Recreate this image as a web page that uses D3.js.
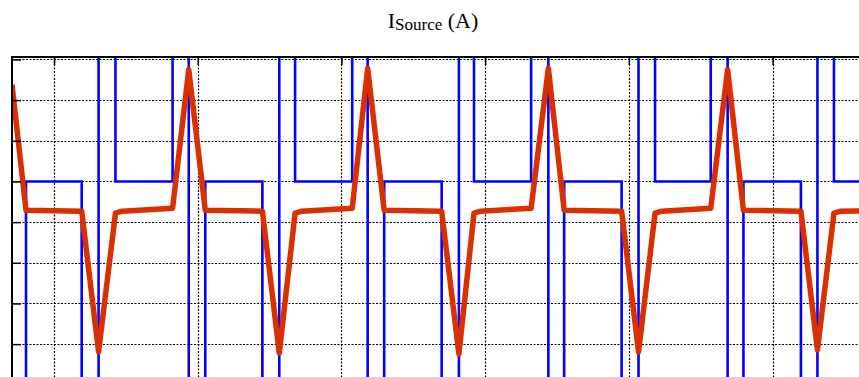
<!DOCTYPE html>
<html>
<head>
<meta charset="utf-8">
<script src="https://cdn.jsdelivr.net/npm/d3@7/dist/d3.min.js"></script>
<style>
  html, body { margin: 0; padding: 0; background: #fff; }
  svg { display: block; }
</style>
</head>
<body>
<svg id="chart" width="859" height="377"></svg>
<script>
// ---- data ----
const xTicks = [4, 8, 12, 16, 20, 24];
const yTicks = [-5, -4, -3, -2, -1, 0, 1, 2, 3];

// blue: three-level switching waveform (step after)
const blueT = [2.83, 3.22, 4.77, 5.24, 5.71, 7.30, 7.75, 8.21, 9.80, 10.27, 10.71, 12.30, 12.73, 13.19,
  14.79, 15.27, 15.69, 17.28, 17.76, 18.20, 19.80, 20.27, 20.73, 22.28, 22.75, 23.19, 24.79, 25.25, 25.71, 26.70];
const blueV = [-5, 0, -5, 5, 0, 5, -5, 0, -5, 5, 0, 5, -5, 0,
  -5, 5, 0, 5, -5, 0, -5, 5, 0, 5, -5, 0, -5, 5, 0, 0];

// red: source current
const redT = [2.83, 3.22, 4.77, 5.24, 5.71, 5.90, 7.30, 7.75, 8.21, 9.80, 10.27, 10.71, 10.90, 12.30, 12.73,
  13.19, 14.79, 15.27, 15.69, 15.88, 17.28, 17.76, 18.20, 19.80, 20.27, 20.73, 20.92, 22.28, 22.75,
  23.19, 24.79, 25.25, 25.71, 25.90, 26.70];
const redV = [2.38, -0.71, -0.73, -4.19, -0.78, -0.73, -0.66, 2.75, -0.71, -0.73, -4.22, -0.78, -0.73, -0.66, 2.78,
  -0.71, -0.73, -4.24, -0.78, -0.73, -0.66, 2.78, -0.71, -0.73, -4.19, -0.78, -0.73, -0.66, 2.75,
  -0.71, -0.73, -4.14, -0.78, -0.73, -0.72];

// ---- layout ----
const svg = d3.select("#chart");
const plotLeft = 12, plotTop = 57;
const xDomain = [2.83, 26.7];
const pxPerX = 35.925;
const yDomain = [-5.6, 3.06];
const pxPerY = 40.67;
const plotRight = plotLeft + (xDomain[1] - xDomain[0]) * pxPerX;
const plotBottom = plotTop + (yDomain[1] - yDomain[0]) * pxPerY;

const x = d3.scaleLinear().domain(xDomain).range([plotLeft, plotRight]);
const y = d3.scaleLinear().domain(yDomain).range([plotBottom, plotTop]);

svg.append("defs").append("clipPath").attr("id", "clip")
  .append("rect").attr("x", plotLeft).attr("y", plotTop)
  .attr("width", plotRight - plotLeft).attr("height", plotBottom - plotTop);

// grid
const grid = svg.append("g").attr("clip-path", "url(#clip)");
grid.selectAll(".gx").data(xTicks).enter().append("line")
  .attr("x1", d => Math.round(x(d)) + 0.5).attr("x2", d => Math.round(x(d)) + 0.5)
  .attr("y1", plotTop).attr("y2", plotBottom)
  .attr("stroke", "#000").attr("stroke-width", 1.2).attr("stroke-dasharray", "2,1.5");
grid.selectAll(".gy").data(yTicks).enter().append("line")
  .attr("y1", d => Math.round(y(d)) + 0.5).attr("y2", d => Math.round(y(d)) + 0.5)
  .attr("x1", plotLeft).attr("x2", plotRight)
  .attr("stroke", "#000").attr("stroke-width", 1.2).attr("stroke-dasharray", "2,1.5");

const plot = svg.append("g").attr("clip-path", "url(#clip)");

// blue
const blueData = blueT.map((t, i) => [t, blueV[i]]);
plot.append("path").datum(blueData)
  .attr("d", d3.line().x(d => x(d[0])).y(d => y(d[1])).curve(d3.curveStepAfter))
  .attr("fill", "none").attr("stroke", "#0000ff").attr("stroke-width", 2.6);

// red
const redData = redT.map((t, i) => [t, redV[i]]);
plot.append("path").datum(redData)
  .attr("d", d3.line().x(d => x(d[0])).y(d => y(d[1])))
  .attr("fill", "none").attr("stroke", "#da3000").attr("stroke-width", 5.5)
  .attr("stroke-linejoin", "round").attr("stroke-linecap", "butt");

// axes (box lines + inward ticks)
const axes = svg.append("g");
const axTop = d3.axisTop(x).tickValues(xTicks).tickSize(-8).tickFormat("");
axes.append("g").attr("transform", `translate(0,${plotTop})`).call(axTop)
  .call(g => g.select(".domain").remove())
  .selectAll("line").attr("stroke", "#000").attr("stroke-width", 1.5);
const axLeft = d3.axisLeft(y).tickValues(yTicks).tickSize(-9).tickFormat("");
axes.append("g").attr("transform", `translate(${plotLeft},0)`).call(axLeft)
  .call(g => g.select(".domain").remove())
  .selectAll("line").attr("stroke", "#000").attr("stroke-width", 1.5);

axes.append("line").attr("x1", plotLeft - 1).attr("x2", plotRight)
  .attr("y1", plotTop).attr("y2", plotTop).attr("stroke", "#000").attr("stroke-width", 2);
axes.append("line").attr("x1", plotLeft).attr("x2", plotLeft)
  .attr("y1", plotTop).attr("y2", plotBottom).attr("stroke", "#000").attr("stroke-width", 2);

// title
const serif = "'Times New Roman', 'Liberation Serif', serif";
const title = svg.append("text")
  .attr("x", 433).attr("y", 28)
  .attr("text-anchor", "middle")
  .attr("font-family", serif)
  .attr("font-size", 22).attr("fill", "#000");
title.append("tspan").attr("font-family", serif).text("I");
title.append("tspan").attr("font-family", serif).attr("font-size", 17).attr("dy", 2).text("Source");
title.append("tspan").attr("font-family", serif).attr("dy", -2).text("\u00A0(A)");
</script>
</body>
</html>
